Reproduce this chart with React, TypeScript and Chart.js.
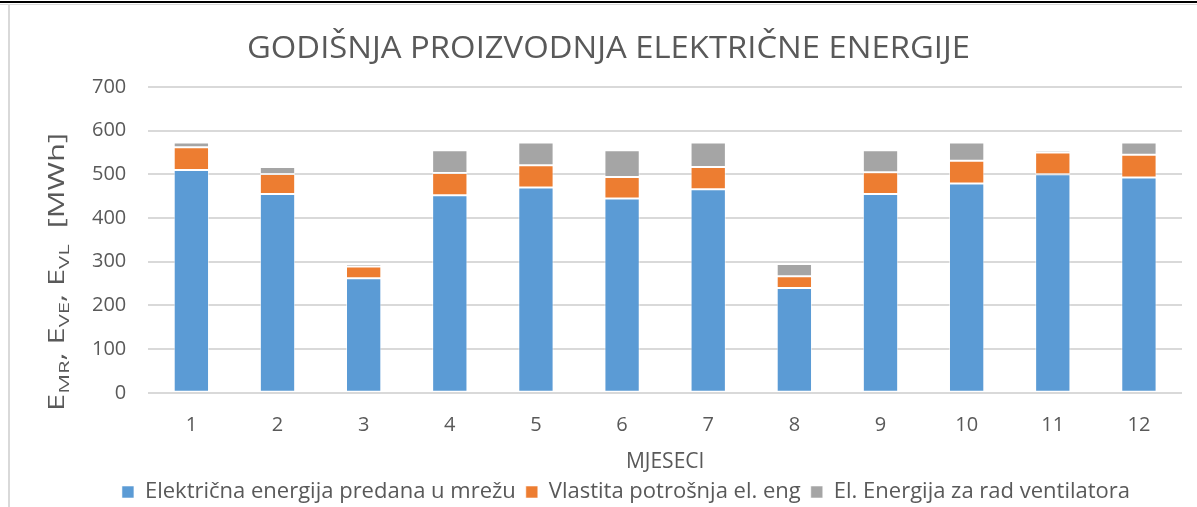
import React, { useEffect, useRef } from "react";
import { Chart, registerables } from "chart.js";

Chart.register(...registerables);

const months = ["1", "2", "3", "4", "5", "6", "7", "8", "9", "10", "11", "12"];
const gridEnergy = [510, 455, 262, 452, 470, 445, 466, 240, 455, 479, 500, 493];
const ownUse = [52, 46, 27, 51, 51, 49, 51, 27, 50, 52, 50, 52];
const fanEnergy = [11, 16, 6, 52, 52, 61, 56, 28, 50, 42, 5, 28];
const seriesNames = [
  "Električna energija predana u mrežu",
  "Vlastita potrošnja el. eng",
  "El. Energija za rad ventilatora",
];
const titleText = "GODIŠNJA PROIZVODNJA ELEKTRIČNE ENERGIJE";
const xTitle = "MJESECI";
const yTitleParts: { t: string; sub: boolean }[] = [
  { t: "E", sub: false },
  { t: "MR", sub: true },
  { t: ", E", sub: false },
  { t: "VE", sub: true },
  { t: ", E", sub: false },
  { t: "VL", sub: true },
  { t: "  [MWh]", sub: false },
];

const FONT = "'Open Sans', sans-serif";
const TEXT = "#595959";

const framePlugin = {
  id: "frame",
  beforeDraw(chart: any) {
    const ctx = chart.ctx;
    ctx.save();
    ctx.fillStyle = "#ffffff";
    ctx.fillRect(0, 0, chart.width, chart.height);
    ctx.fillStyle = "#000000";
    ctx.fillRect(0, 1, chart.width, 2);
    ctx.fillStyle = "#d9d9d9";
    ctx.fillRect(0, 4, chart.width, 1);
    ctx.fillRect(8, 4, 2, chart.height - 4);
    ctx.restore();
  },
};

const titlePlugin = {
  id: "bigtitle",
  afterDraw(chart: any) {
    const ctx = chart.ctx;
    ctx.save();
    ctx.font = `31px ${FONT}`;
    ctx.fillStyle = TEXT;
    ctx.textBaseline = "alphabetic";
    ctx.textAlign = "left";
    const target = 723;
    const natural = ctx.measureText(titleText).width;
    ctx.translate(608.5 - target / 2, 58);
    ctx.scale(target / natural, 1);
    ctx.fillText(titleText, 0, 0);
    ctx.restore();
  },
};

const yTitlePlugin = {
  id: "ytitle",
  afterDraw(chart: any) {
    const ctx = chart.ctx;
    ctx.save();
    ctx.translate(64, 272);
    ctx.rotate(-Math.PI / 2);
    ctx.fillStyle = TEXT;
    ctx.textBaseline = "alphabetic";
    ctx.textAlign = "left";
    const mainFont = `21px ${FONT}`;
    const subFont = `15px ${FONT}`;
    let total = 0;
    for (const p of yTitleParts) {
      ctx.font = p.sub ? subFont : mainFont;
      total += ctx.measureText(p.t).width;
    }
    const target = 278;
    ctx.scale(target / total, 1);
    let x = -total / 2;
    for (const p of yTitleParts) {
      ctx.font = p.sub ? subFont : mainFont;
      ctx.fillText(p.t, x, p.sub ? 5 : 0);
      x += ctx.measureText(p.t).width;
    }
    ctx.restore();
  },
};

export default function App() {
  const ref = useRef<HTMLCanvasElement | null>(null);
  useEffect(() => {
    document.body.style.margin = "0";
    if (!ref.current) return;
    const mk = (label: string, data: number[], color: string) => ({
      label,
      data,
      backgroundColor: color,
      borderColor: "rgba(255,255,255,0.55)",
      borderWidth: 1,
      borderSkipped: false as any,
      categoryPercentage: 1,
      barPercentage: 0.41,
    });
    const chart = new Chart(ref.current, {
      type: "bar",
      data: {
        labels: months,
        datasets: [
          mk(seriesNames[0], gridEnergy, "#5B9BD5"),
          mk(seriesNames[1], ownUse, "#ED7D31"),
          mk(seriesNames[2], fanEnergy, "#A5A5A5"),
        ],
      },
      options: {
        animation: false,
        responsive: false,
        layout: { padding: { left: 70, right: 15, top: 87, bottom: -6 } },
        plugins: {
          title: { display: false },
          legend: {
            position: "bottom",
            labels: {
              color: TEXT,
              font: { family: FONT, size: 22 },
              boxWidth: 12,
              boxHeight: 12,
              padding: 10,
            },
          },
          tooltip: { enabled: false },
        },
        scales: {
          x: {
            stacked: true,
            grid: { display: false },
            border: { display: false },
            ticks: { color: TEXT, font: { family: FONT, size: 20 }, padding: 12 },
            title: {
              display: true,
              text: xTitle,
              color: TEXT,
              font: { family: FONT, size: 21 },
              padding: { top: 1, bottom: -4 },
            },
          },
          y: {
            stacked: true,
            min: 0,
            max: 700,
            grid: { color: "#d9d9d9", lineWidth: 2, drawTicks: false },
            border: { display: false },
            ticks: {
              stepSize: 100,
              color: TEXT,
              font: { family: FONT, size: 20 },
              padding: 22,
            },
          },
        },
      },
      plugins: [framePlugin, titlePlugin, yTitlePlugin],
    });
    return () => chart.destroy();
  }, []);
  return <canvas ref={ref} width={1197} height={507} style={{ display: "block" }} />;
}
